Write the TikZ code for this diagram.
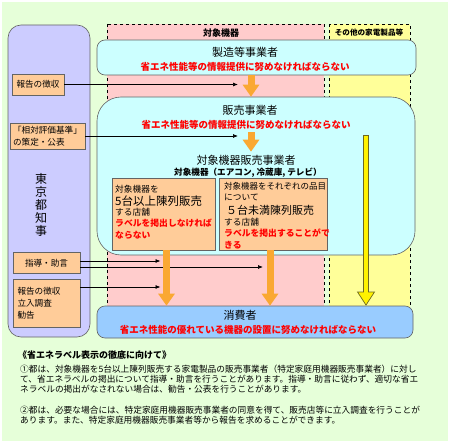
\documentclass[tikz,border=0pt]{standalone}
\usepackage{fontspec}
\setmainfont{Noto Sans CJK JP}
\usetikzlibrary{arrows.meta,positioning}
\definecolor{bggreen}{RGB}{230,255,217}
\definecolor{zonepink}{RGB}{255,204,204}
\definecolor{zoneyellow}{RGB}{255,255,153}
\definecolor{govpurple}{RGB}{204,204,255}
\definecolor{paneblue}{RGB}{204,255,255}
\definecolor{consblue}{RGB}{153,204,255}
\definecolor{peach}{RGB}{255,204,153}
\definecolor{dropor}{RGB}{250,168,50}
\definecolor{edge}{RGB}{100,100,100}
\tikzset{zone/.style={draw=black,dashed,line width=0.9pt},pane/.style={draw=edge,line width=0.6pt,inner sep=0pt},act/.style={draw=edge,fill=peach,line width=0.6pt,inner sep=0pt,align=left,font=\fontsize{8.6}{12}\selectfont},head/.style={inner sep=0pt,font=\fontsize{11}{12}\selectfont},duty/.style={inner sep=0pt,text=red,font=\bfseries\fontsize{9.5}{11}\selectfont},txt/.style={inner sep=0pt,anchor=west,font=\fontsize{8.7}{10}\selectfont},arr/.style={-{Latex[length=5pt,width=4pt]},line width=0.7pt},fat/.style={dropor,line width=7pt,-{Triangle[width=16pt,length=12pt]}}}

\begin{document}
\begin{tikzpicture}[x=1pt,y=-1pt]
\useasboundingbox (0,0) rectangle (450,444);
\fill[bggreen] (2,2) rectangle (448,441);
% zones
\filldraw[zone,fill=zonepink] (107,24) rectangle (324,310);
\filldraw[zone,fill=zoneyellow] (329,24) rectangle (410,310);
\node[inner sep=0pt,font=\bfseries\fontsize{9}{10}\selectfont] (zoneT) at (221,33) {対象機器};
\node[inner sep=0pt,font=\bfseries\fontsize{7.6}{9}\selectfont] (otherT) at (369,33) {その他の家電製品等};
% governor
\node[pane,fill=govpurple,rounded corners=13pt,minimum width=82,minimum height=312] (gov) at (49,181) {};
\node[inner sep=0pt,align=center,font=\fontsize{12}{13}\selectfont] (govT) at (41,205) {東\\京\\都\\知\\事};
\node[act,minimum width=52,minimum height=21,align=center] (rep) at (38,84.5) {報告の徴収};
\node[act,minimum width=75,minimum height=26] (crit) at (47.5,136) {「相対評価基準」\\の策定・公表};
\node[act,minimum width=67,minimum height=21,align=center] (guide) at (46.5,263) {指導・助言};
\node[act,minimum width=67,minimum height=48,text width=58] (insp) at (46.5,303) {報告の徴収\\立入調査\\勧告};
% actors
\node[pane,fill=paneblue,rounded corners=8pt,minimum width=319,minimum height=35] (maker) at (256.5,57.5) {};
\node[head] (makerT) at (245,52) {製造等事業者};
\node[duty] (makerD) at (245,67) {省エネ性能等の情報提供に努めなければならない};
\node[pane,fill=paneblue,rounded corners=24pt,minimum width=318,minimum height=158] (seller) at (256,176) {};
\node[head] (sellerT) at (250,110) {販売事業者};
\node[duty] (sellerD) at (246,125) {省エネ性能等の情報提供に努めなければならない};
\node[head] (retailT) at (246,160) {対象機器販売事業者};
\node[inner sep=0pt,font=\bfseries\fontsize{8.6}{10}\selectfont] (retailS) at (248,173) {対象機器（エアコン, 冷蔵庫, テレビ）};
\node[pane,fill=peach,minimum width=103,minimum height=72] (storeL) at (163.5,214) {};
\node[pane,fill=peach,minimum width=108,minimum height=72] (storeR) at (273,214) {};
\node[txt] at (115,189) {対象機器を};
\node[txt,font=\fontsize{11.5}{12}\selectfont] at (115,201) {5台以上陳列販売};
\node[txt] at (115,212) {する店舗};
\node[txt,text=red,font=\bfseries\fontsize{8.8}{10}\selectfont] at (115,223) {ラベルを掲出しなければ};
\node[txt,text=red,font=\bfseries\fontsize{8.8}{10}\selectfont] at (115,235) {ならない};
\node[txt,font=\fontsize{8.5}{10}\selectfont] at (224,186) {対象機器をそれぞれの品目};
\node[txt] at (224,197) {について};
\node[txt,font=\fontsize{11}{12}\selectfont] at (226,210) {５台未満陳列販売};
\node[txt] at (224,222) {する店舗};
\node[txt,text=red,font=\bfseries\fontsize{8.8}{10}\selectfont] at (224,233) {ラベルを掲出することがで};
\node[txt,text=red,font=\bfseries\fontsize{8.8}{10}\selectfont] at (224,245) {きる};
\node[pane,fill=consblue,rounded corners=8pt,minimum width=316,minimum height=32] (cons) at (255,322) {};
\node[head] (consT) at (240,315) {消費者};
\node[duty] (consD) at (248,330) {省エネ性能の優れている機器の設置に努めなければならない};
% connectors
\coordinate (dropA) at (251,0);
\coordinate (dropB) at (251,132);
\coordinate (otherTop) at (366,135);
\draw[arr,shorten >=13pt] (rep.east) -- (rep.east -| dropA);
\draw[arr,shorten >=13pt] (crit.east) -- (crit.east -| dropA);
\draw[arr,shorten >=3pt] ([yshift=2pt]guide.east) -- ([yshift=2pt]guide.east -| storeL.south);
\draw[arr,shorten >=10pt] ([yshift=-4pt]guide.east) -- ([yshift=-4pt]guide.east -| storeR.south);
\draw[arr,shorten >=3pt] ([yshift=16pt]insp.east) -- ([yshift=16pt]insp.east -| storeL.south);
\draw[fat] (maker.south -| dropA) -- (seller.north -| dropA);
\draw[fat] (dropB) -- ([yshift=3pt]retailT.north -| dropA);
\draw[fat] ([xshift=3pt]storeL.south) -- ([xshift=3pt]storeL.south |- cons.north);
\draw[fat] ([xshift=-3pt]storeR.south) -- ([xshift=-3pt]storeR.south |- cons.north);
\draw[line width=6pt,draw=olive!70!black,-{Triangle[width=18pt,length=14pt,fill=yellow,line width=0.7pt]}] (otherTop) -- (otherTop |- cons.north);
\draw[line width=4.4pt,yellow,shorten <=0.8pt,shorten >=13pt] (otherTop) -- (otherTop |- cons.north);
% notes
\node[txt,font=\bfseries\fontsize{9}{10}\selectfont] (noteT) at (18,355) {《省エネラベル表示の徹底に向けて》};
\node[txt,align=left] (note1) at (20,379) {①都は、対象機器を5台以上陳列販売する家電製品の販売事業者（特定家庭用機器販売事業者）に対し\\て、省エネラベルの掲出について指導・助言を行うことがあります。指導・助言に従わず、適切な省エ\\ネラベルの掲出がなされない場合は、勧告・公表を行うことがあります。};
\node[txt,align=left] (note2) at (20,415) {②都は、必要な場合には、特定家庭用機器販売事業者の同意を得て、販売店等に立入調査を行うことが\\あります。また、特定家庭用機器販売事業者等から報告を求めることができます。};
\end{tikzpicture}
\end{document}
